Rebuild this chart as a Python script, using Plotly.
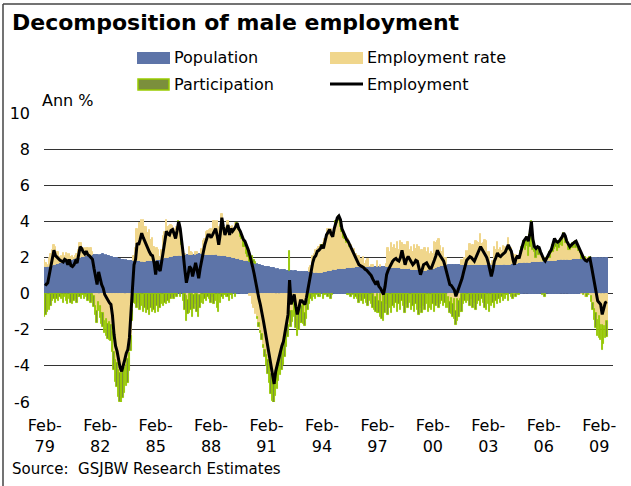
import plotly.graph_objects as go
import pandas as pd

# ---------------- data (annual % change, monthly Feb-79 .. Jul-09) ----------------
months = pd.date_range("1979-02-01", "2009-07-01", freq="MS")

population = [
    1.45, 1.45, 1.5, 1.5, 1.55, 1.55, 1.6, 1.6, 1.65, 1.65, 1.7,                 # 1979
    1.7, 1.72, 1.75, 1.78, 1.8, 1.82, 1.85, 1.88, 1.9, 1.93, 1.95, 1.98,          # 1980
    2.0, 2.02, 2.03, 2.05, 2.06, 2.08, 2.1, 2.1, 2.12, 2.13, 2.14, 2.15,          # 1981
    2.15, 2.16, 2.16, 2.17, 2.15, 2.13, 2.1, 2.08, 2.05, 2.02, 2.0, 1.98,         # 1982
    1.95, 1.93, 1.9, 1.88, 1.86, 1.85, 1.84, 1.83, 1.82, 1.81, 1.8, 1.8,          # 1983
    1.8, 1.79, 1.78, 1.78, 1.77, 1.77, 1.77, 1.78, 1.78, 1.79, 1.79, 1.8,         # 1984
    1.8, 1.82, 1.84, 1.86, 1.88, 1.9, 1.92, 1.95, 1.97, 2.0, 2.02, 2.04,          # 1985
    2.05, 2.06, 2.07, 2.08, 2.09, 2.1, 2.11, 2.12, 2.13, 2.14, 2.15, 2.15,        # 1986
    2.15, 2.15, 2.16, 2.16, 2.17, 2.17, 2.17, 2.17, 2.16, 2.16, 2.16, 2.15,       # 1987
    2.15, 2.15, 2.14, 2.14, 2.13, 2.12, 2.11, 2.1, 2.09, 2.08, 2.07, 2.06,        # 1988
    2.05, 2.03, 2.01, 1.99, 1.97, 1.95, 1.93, 1.91, 1.88, 1.86, 1.84, 1.82,       # 1989
    1.8, 1.78, 1.75, 1.73, 1.7, 1.68, 1.65, 1.62, 1.6, 1.57, 1.55, 1.52,          # 1990
    1.5, 1.48, 1.47, 1.45, 1.43, 1.42, 1.4, 1.38, 1.36, 1.34, 1.32, 1.31,         # 1991
    1.3, 1.29, 1.28, 1.27, 1.26, 1.25, 1.25, 1.24, 1.23, 1.22, 1.21, 1.2,         # 1992
    1.2, 1.2, 1.19, 1.19, 1.18, 1.18, 1.17, 1.17, 1.16, 1.16, 1.15, 1.15,         # 1993
    1.15, 1.16, 1.17, 1.19, 1.21, 1.23, 1.25, 1.27, 1.29, 1.31, 1.33, 1.34,       # 1994
    1.35, 1.36, 1.37, 1.38, 1.39, 1.4, 1.41, 1.42, 1.43, 1.44, 1.44, 1.45,        # 1995
    1.45, 1.46, 1.46, 1.47, 1.47, 1.48, 1.48, 1.49, 1.49, 1.5, 1.5, 1.5,          # 1996
    1.5, 1.5, 1.5, 1.49, 1.48, 1.47, 1.46, 1.45, 1.45, 1.44, 1.44, 1.43,          # 1997
    1.42, 1.42, 1.41, 1.41, 1.4, 1.39, 1.38, 1.37, 1.36, 1.35, 1.34, 1.33,        # 1998
    1.32, 1.31, 1.3, 1.3, 1.29, 1.29, 1.28, 1.28, 1.28, 1.28, 1.29, 1.3,          # 1999
    1.32, 1.35, 1.38, 1.42, 1.46, 1.5, 1.52, 1.54, 1.55, 1.56, 1.57, 1.58,        # 2000
    1.58, 1.59, 1.59, 1.6, 1.6, 1.6, 1.6, 1.6, 1.6, 1.6, 1.6, 1.6,                # 2001
    1.6, 1.6, 1.6, 1.6, 1.6, 1.6, 1.6, 1.6, 1.6, 1.6, 1.6, 1.6,                   # 2002
    1.6, 1.6, 1.6, 1.6, 1.6, 1.6, 1.6, 1.6, 1.6, 1.6, 1.6, 1.6,                   # 2003
    1.6, 1.6, 1.6, 1.61, 1.62, 1.63, 1.64, 1.65, 1.66, 1.67, 1.68, 1.69,          # 2004
    1.7, 1.7, 1.71, 1.72, 1.72, 1.73, 1.74, 1.74, 1.75, 1.76, 1.76, 1.77,         # 2005
    1.77, 1.78, 1.78, 1.79, 1.8, 1.8, 1.81, 1.82, 1.82, 1.83, 1.84, 1.84,         # 2006
    1.85, 1.85, 1.86, 1.86, 1.87, 1.87, 1.88, 1.88, 1.89, 1.89, 1.9, 1.9,         # 2007
    1.9, 1.91, 1.91, 1.92, 1.92, 1.93, 1.93, 1.94, 1.94, 1.95, 1.95, 1.95,        # 2008
    1.95, 1.96, 1.96, 1.96, 1.97, 1.97, 1.97,                                     # 2009
]

employment_rate = [
    0.4, 0.25, 0.1, 0.5, 0.65, 0.85, 1.1, 1.0, 0.65, 0.65, 0.35,                  # 1979
    0.4, 0.53, 0.35, 0.47, 0.4, 0.38, 0.2, 0.22, 0.1, 0.17, 0.25, 0.42,           # 1980
    0.8, 0.78, 0.37, 0.45, 0.49, 0.47, 0.3, 0.4, 0.18, -0.13, -0.69, -0.95,       # 1981
    -0.45, -0.66, -1.06, -1.07, -1.5, -1.43, -1.7, -1.58, -1.75, -2.12, -3.25, -3.68,  # 1982
    -3.85, -4.23, -4.4, -4.38, -4.26, -4.1, -3.94, -3.63, -3.27, -2.36, -0.9, 0.3,     # 1983
    0.7, 1.81, 1.42, 2.12, 2.28, 2.33, 1.93, 1.92, 1.57, 1.71, 1.16, 1.3,         # 1984
    0.8, 0.33, 0.66, 0.54, 0.17, 0.5, 1.28, 1.45, 2.08, 1.7, 1.73, 1.76,          # 1985
    1.7, 1.54, 1.08, 1.62, 1.81, 1.7, 0.59, 0.43, 0.07, -0.14, -0.35, 0.45,       # 1986
    0.15, 0.1, -0.06, 0.14, 0.13, -0.12, -0.07, 0.28, 0.74, 0.84, 1.24, 1.3,      # 1987
    1.4, 1.45, 1.31, 1.86, 1.87, 1.88, 1.59, 1.7, 2.31, 1.92, 1.28, 1.64,         # 1988
    1.95, 1.62, 1.69, 1.76, 1.48, 1.95, 1.77, 1.59, 1.27, 1.14, 0.76, 0.78,       # 1989
    0.4, 0.27, -0.15, -0.13, -0.6, -0.78, -1.15, -1.32, -1.65, -2.07, -2.25, -2.82,    # 1990
    -3.1, -3.38, -3.67, -3.95, -4.43, -4.62, -4.9, -4.48, -3.86, -3.84, -3.32, -3.31,  # 1991
    -2.95, -2.69, -1.88, -1.72, -1.61, -0.95, -0.95, -0.49, -0.73, -1.47, -1.01, -0.9, # 1992
    -0.7, -0.6, -1.09, -0.59, -0.38, 0.22, 0.38, 0.93, 1.04, 1.24, 1.3, 1.45,     # 1993
    1.55, 1.44, 1.63, 1.81, 1.84, 2.37, 2.2, 2.33, 1.96, 2.09, 2.57, 2.56,        # 1994
    2.65, 2.34, 2.03, 1.72, 1.66, 1.4, 1.59, 1.18, 1.27, 1.01, 1.01, 0.75,        # 1995
    0.65, 0.64, 0.29, 0.43, 0.58, 0.17, 0.32, 0.41, 0.01, 0.1, 0.1, -0.4,         # 1996
    -0.2, 0.3, -0.4, 0.11, -0.48, -0.12, -0.06, 0.2, 1.05, 0.86, 1.36, 1.07,      # 1997
    1.28, 1.03, 1.44, 0.99, 1.5, 1.41, 1.32, 1.33, 1.14, 1.5, 1.06, 1.27,         # 1998
    0.98, 1.39, 1.15, 1.4, 1.31, 0.56, 1.12, 1.02, 1.27, 1.02, 1.26, 0.9,         # 1999
    0.98, 0.85, 1.47, 1.38, 1.44, 1.5, 1.13, 0.76, 0.95, 0.44, 0.38, -0.18,       # 2000
    -0.48, -0.24, -0.59, -0.3, -0.95, -0.3, -0.4, -0.3, 0.25, 0.2, 0.4, 0.75,     # 2001
    0.75, 1.15, 0.7, 1.1, 0.7, 1.3, 1.25, 1.2, 1.7, 1.15, 1.2, 1.35,              # 2002
    1.3, 0.7, 0.7, 0.05, 0.2, 1.0, 0.8, 1.25, 0.8, 0.95, 0.75, 1.05,              # 2003
    1.0, 1.0, 1.5, 0.79, 0.93, 0.57, -0.14, 0.5, 0.24, 0.38, 0.57, 0.71,          # 2004
    0.8, 0.7, 0.94, 0.38, 0.88, 1.27, 0.66, 0.56, 0.25, 0.64, 0.39, 0.43,         # 2005
    0.38, 0.02, 0.22, 0.01, 0.25, 0.2, 0.44, 0.48, 0.63, 0.77, 0.51, 0.66,        # 2006
    0.85, 0.8, 1.29, 0.94, 0.93, 0.53, 0.52, 0.72, 0.61, 0.76, 0.6, 0.7,          # 2007
    0.45, 0.34, -0.01, 0.13, -0.17, 0.07, 0.07, -0.09, -0.14, -0.5, -0.85, -1.1,  # 2008
    -1.45, -1.26, -1.76, -1.71, -1.77, -1.77, -1.52,                              # 2009
]

participation = [
    -1.3, -1.2, -1.0, -0.9, -0.7, -0.4, -0.3, -0.5, -0.3, -0.4, -0.2,             # 1979
    -0.3, -0.5, -0.2, -0.4, -0.6, -0.3, -0.5, -0.6, -0.4, -0.3, -0.5, -0.2,       # 1980
    -0.2, -0.3, -0.1, -0.3, -0.2, -0.4, -0.3, -0.5, -0.4, -0.6, -0.5, -0.7,       # 1981
    -0.5, -0.7, -0.6, -0.8, -0.7, -0.9, -0.8, -1.0, -0.9, -1.1, -1.0, -1.2,       # 1982
    -1.3, -1.5, -1.6, -1.8, -1.5, -1.4, -1.2, -1.3, -1.0, -0.8, -0.6, -0.5,       # 1983
    -0.6, -0.8, -0.5, -0.9, -0.7, -1.0, -0.8, -1.1, -0.9, -1.2, -0.8, -1.0,       # 1984
    -0.9, -1.1, -0.7, -1.0, -0.8, -0.6, -0.7, -0.5, -0.6, -0.4, -0.5, -0.3,       # 1985
    -0.2, -0.3, -0.1, -0.2, 0.1, -0.2, 0.3, -0.4, -0.9, -1.4, -0.8, -1.1,         # 1986
    -0.9, -1.3, -0.8, -0.6, -1.0, -1.2, -0.7, -0.5, -0.6, -0.3, -0.4, -0.2,       # 1987
    -0.3, -0.5, -0.2, -0.6, -0.4, -0.8, -1.0, -0.5, -0.2, -0.3, -0.1, -0.2,       # 1988
    -0.2, -0.4, -0.1, -0.3, 0.1, -0.2, 0.2, 0.1, 0.3, 0.2, 0.4, 0.3,              # 1989
    0.5, 0.4, 0.6, 0.3, 0.4, 0.2, 0.1, -0.1, -0.2, -0.1, -0.3, -0.2,              # 1990
    -0.4, -0.6, -0.8, -1.0, -1.1, -1.3, -1.5, -1.2, -1.4, -1.0, -1.2, -0.9,       # 1991
    -1.0, -0.8, -1.1, -0.7, 1.1, -0.9, -0.6, -0.8, -1.2, -0.9, -1.0, -0.7,        # 1992
    -0.9, -1.1, -0.7, -0.8, -0.5, -0.6, -0.3, -0.4, -0.2, -0.3, -0.1, -0.2,       # 1993
    -0.2, 0.1, -0.3, -0.1, 0.2, -0.2, 0.1, -0.3, -0.1, 0.2, 0.1, 0.3,             # 1994
    0.3, 0.4, 0.2, 0.3, 0.1, 0.2, -0.1, 0.1, -0.2, -0.1, -0.3, -0.2,              # 1995
    -0.3, -0.5, -0.2, -0.4, -0.6, -0.3, -0.5, -0.7, -0.4, -0.6, -0.8, -0.5,       # 1996
    -0.8, -1.1, -0.7, -1.3, -0.9, -1.4, -1.0, -0.6, -1.2, -0.8, -1.1, -0.7,       # 1997
    -0.8, -0.5, -1.0, -0.6, -0.9, -0.4, -0.7, -1.1, -0.6, -0.8, -0.5, -0.9,       # 1998
    -0.7, -1.0, -0.6, -0.9, -1.2, -0.8, -1.1, -0.7, -0.9, -0.6, -1.0, -0.8,       # 1999
    -0.9, -0.6, -1.0, -0.7, -0.5, -0.8, -0.6, -0.4, -0.7, -0.5, -0.8, -0.6,       # 2000
    -0.6, -0.9, -0.7, -1.1, -0.8, -1.2, -0.9, -0.7, -1.0, -0.6, -0.4, -0.5,       # 2001
    -0.4, -0.7, -0.3, -0.8, -0.5, -0.9, -0.6, -0.4, -0.7, -0.3, -0.5, -0.8,       # 2002
    -0.9, -0.6, -1.0, -0.7, -0.5, -0.8, -0.4, -0.6, -0.3, -0.5, -0.2, -0.4,       # 2003
    -0.3, -0.1, -0.4, 0.1, -0.2, -0.3, 0.1, -0.2, 0.2, -0.1, 0.1, 0.2,            # 2004
    0.4, 0.6, 0.5, 0.8, 0.7, 1.0, 0.6, 0.3, 0.5, 0.2, 0.4, 0.1,                   # 2005
    -0.1, 0.1, -0.2, 0.2, 0.1, 0.3, 0.2, 0.4, 0.6, 0.3, 0.5, 0.4,                 # 2006
    0.3, 0.5, 0.2, 0.4, 0.1, 0.3, 0.2, 0.1, 0.3, 0.2, 0.4, 0.1,                   # 2007
    0.2, 0.1, 0.3, -0.1, 0.1, -0.2, -0.1, 0.1, -0.3, -0.4, -0.6, -0.8,            # 2008
    -0.9, -1.2, -0.8, -1.4, -1.0, -0.7, -0.9,                                     # 2009
]

employment = [
    0.55, 0.5, 0.6, 1.1, 1.5, 2.0, 2.4, 2.1, 2.0, 1.9, 1.85,                      # 1979
    1.8, 1.75, 1.9, 1.85, 1.6, 1.9, 1.55, 1.5, 1.6, 1.8, 1.7, 2.2,                # 1980
    2.6, 2.5, 2.3, 2.2, 2.35, 2.15, 2.1, 2.0, 1.9, 1.4, 0.95, 0.5,                # 1981
    1.2, 0.8, 0.5, 0.3, -0.05, -0.2, -0.4, -0.5, -0.6, -1.2, -2.25, -2.9,         # 1982
    -3.2, -3.8, -4.1, -4.3, -3.9, -3.65, -3.3, -3.1, -2.45, -1.35, 0.3, 1.6,      # 1983
    1.9, 2.8, 2.7, 3.0, 3.35, 3.1, 2.9, 2.6, 2.45, 2.3, 2.15, 2.1,                # 1984
    1.7, 1.05, 1.8, 1.4, 1.25, 1.8, 2.5, 2.9, 3.45, 3.3, 3.25, 3.5,               # 1985
    3.55, 3.3, 3.05, 3.5, 4.0, 3.6, 3.0, 2.15, 1.3, 0.6, 1.0, 1.5,                # 1986
    1.4, 0.95, 1.3, 1.7, 1.3, 0.85, 1.4, 1.95, 2.3, 2.7, 3.0, 3.25,               # 1987
    3.25, 3.1, 3.25, 3.4, 3.6, 3.2, 2.7, 3.3, 4.2, 3.7, 3.25, 3.5,                # 1988
    3.8, 3.25, 3.6, 3.45, 3.55, 3.7, 3.9, 3.6, 3.45, 3.2, 3.0, 2.9,               # 1989
    2.7, 2.45, 2.2, 1.9, 1.5, 1.1, 0.6, 0.2, -0.25, -0.6, -1.0, -1.5,             # 1990
    -2.0, -2.5, -3.0, -3.5, -4.1, -4.5, -5.0, -4.3, -3.9, -3.5, -3.2, -2.9,       # 1991
    -2.65, -2.2, -1.7, -1.15, 0.75, -0.6, -0.3, -0.05, -0.7, -1.15, -0.8, -0.4,   # 1992
    -0.4, -0.5, -0.6, -0.2, 0.3, 0.8, 1.25, 1.7, 2.0, 2.1, 2.35, 2.4,             # 1993
    2.5, 2.7, 2.5, 2.9, 3.25, 3.4, 3.55, 3.3, 3.15, 3.6, 4.0, 4.2,                # 1994
    4.3, 4.1, 3.6, 3.4, 3.15, 3.0, 2.9, 2.7, 2.5, 2.35, 2.15, 2.0,                # 1995
    1.8, 1.6, 1.55, 1.5, 1.45, 1.35, 1.3, 1.2, 1.1, 1.0, 0.8, 0.6,                # 1996
    0.5, 0.7, 0.4, 0.3, 0.1, -0.05, 0.4, 1.05, 1.3, 1.5, 1.7, 1.8,                # 1997
    1.9, 1.95, 1.85, 1.8, 2.0, 2.4, 2.0, 1.6, 1.9, 2.05, 1.9, 1.7,                # 1998
    1.6, 1.7, 1.85, 1.8, 1.4, 1.05, 1.3, 1.6, 1.65, 1.7, 1.55, 1.4,               # 1999
    1.4, 1.6, 1.85, 2.1, 2.4, 2.2, 2.05, 1.9, 1.8, 1.5, 1.15, 0.8,                # 2000
    0.5, 0.45, 0.3, 0.2, -0.15, 0.1, 0.3, 0.6, 0.85, 1.2, 1.6, 1.85,              # 2001
    1.95, 2.05, 2.0, 1.9, 1.8, 2.0, 2.25, 2.4, 2.6, 2.45, 2.3, 2.15,              # 2002
    2.0, 1.7, 1.3, 0.95, 1.3, 1.8, 2.0, 2.25, 2.1, 2.05, 2.15, 2.25,              # 2003
    2.3, 2.5, 2.7, 2.5, 2.35, 1.9, 1.6, 1.95, 2.1, 1.95, 2.35, 2.6,               # 2004
    2.9, 3.0, 3.15, 2.9, 3.3, 4.0, 3.0, 2.6, 2.5, 2.6, 2.55, 2.3,                 # 2005
    2.05, 1.9, 1.8, 2.0, 2.15, 2.3, 2.45, 2.7, 3.05, 2.9, 2.85, 2.9,              # 2006
    3.0, 3.15, 3.35, 3.2, 2.9, 2.7, 2.6, 2.7, 2.8, 2.85, 2.9, 2.7,                # 2007
    2.55, 2.35, 2.2, 1.95, 1.85, 1.8, 1.9, 1.95, 1.5, 1.05, 0.5, 0.05,            # 2008
    -0.4, -0.5, -0.6, -1.15, -0.8, -0.5, -0.45,                                   # 2009
]

x_tick_dates = ["1979-02-01", "1982-02-01", "1985-02-01", "1988-02-01", "1991-02-01",
                "1994-02-01", "1997-02-01", "2000-02-01", "2003-02-01", "2006-02-01",
                "2009-02-01"]
x_tick_text = ["Feb-<br>79", "Feb-<br>82", "Feb-<br>85", "Feb-<br>88", "Feb-<br>91",
               "Feb-<br>94", "Feb-<br>97", "Feb-<br>00", "Feb-<br>03", "Feb-<br>06",
               "Feb-<br>09"]
y_tick_vals = [-6, -4, -2, 0, 2, 4, 6, 8, 10]
y_tick_text = ["-6", "-4", "-2", "0", "2", "4", "6", "8", "10"]

# ---------------- layout geometry (pixels) ----------------
W, H = 631, 486
ML, MR, MT, MB = 44, 18, 113, 84
PW, PH = W - ML - MR, H - MT - MB


def px(x):
    return (x - ML) / PW


def py(y):
    return (H - MB - y) / PH


FONT = "DejaVu Sans"
BLUE = "#5d74a8"
TAN = "#f0d68c"
GREEN_FILL = "#7b8f3c"
GREEN_EDGE = "#99cc00"

fig = go.Figure()
fig.add_trace(go.Bar(x=months, y=population, name="Population",
                     marker=dict(color=BLUE, line=dict(color=BLUE, width=1))))
fig.add_trace(go.Bar(x=months, y=employment_rate, name="Employment rate",
                     marker=dict(color=TAN, line=dict(color=TAN, width=1))))
fig.add_trace(go.Bar(x=months, y=participation, name="Participation",
                     marker=dict(color=GREEN_FILL, line=dict(color=GREEN_EDGE, width=0.9))))
fig.add_trace(go.Scatter(x=months, y=employment, name="Employment", mode="lines",
                         line=dict(color="black", width=3)))

shapes = [
    # outer frame (top and left)
    dict(type="line", xref="paper", yref="paper", x0=px(3), x1=px(631), y0=py(4), y1=py(4),
         line=dict(color="#444", width=1.5)),
    dict(type="line", xref="paper", yref="paper", x0=px(3), x1=px(3), y0=py(4), y1=py(486),
         line=dict(color="#444", width=1.5)),
    # legend swatches
    dict(type="rect", xref="paper", yref="paper", x0=px(137), x1=px(170), y0=py(64), y1=py(52),
         fillcolor=BLUE, line=dict(width=0)),
    dict(type="rect", xref="paper", yref="paper", x0=px(330), x1=px(363), y0=py(64), y1=py(52),
         fillcolor=TAN, line=dict(width=0)),
    dict(type="rect", xref="paper", yref="paper", x0=px(138), x1=px(169), y0=py(90), y1=py(79),
         fillcolor=GREEN_FILL, line=dict(color=GREEN_EDGE, width=1.5)),
    dict(type="line", xref="paper", yref="paper", x0=px(330), x1=px(363), y0=py(84), y1=py(84),
         line=dict(color="black", width=3)),
]

annotations = [
    dict(text="<b>Decomposition of male employment</b>", x=px(10), y=py(23),
         font=dict(size=22, family=FONT, color="black")),
    dict(text="Population", x=px(172), y=py(58), font=dict(size=16, family=FONT, color="black")),
    dict(text="Employment rate", x=px(365), y=py(58), font=dict(size=16, family=FONT, color="black")),
    dict(text="Participation", x=px(172), y=py(84), font=dict(size=16, family=FONT, color="black")),
    dict(text="Employment", x=px(365), y=py(84), font=dict(size=16, family=FONT, color="black")),
    dict(text="Ann %", x=px(40), y=py(100), font=dict(size=16, family=FONT, color="black")),
    dict(text="Source:\u00a0 GSJBW Research Estimates", x=px(10), y=py(469),
         font=dict(size=15, family=FONT, color="black")),
]
for a in annotations:
    a.update(xref="paper", yref="paper", xanchor="left", yanchor="middle", showarrow=False)

fig.update_layout(
    width=W, height=H,
    margin=dict(l=ML, r=MR, t=MT, b=MB, autoexpand=False),
    paper_bgcolor="white", plot_bgcolor="white",
    barmode="relative", bargap=0,
    showlegend=False,
    font=dict(family=FONT, size=16, color="black"),
    shapes=shapes, annotations=annotations,
    xaxis=dict(type="date", range=["1979-01-17", "2009-10-31"],
               tickmode="array", tickvals=x_tick_dates, ticktext=x_tick_text,
               showgrid=False, zeroline=False, showline=False, ticks="",
               tickfont=dict(size=16, family=FONT, color="black"),
               ticklabelstandoff=12, automargin=False),
    yaxis=dict(range=[-6, 10], tickmode="array", tickvals=y_tick_vals, ticktext=y_tick_text,
               showgrid=True, gridcolor="#333333", gridwidth=1,
               zeroline=True, zerolinecolor="#333333", zerolinewidth=1,
               showline=False, ticks="",
               tickfont=dict(size=16, family=FONT, color="black"),
               ticklabelstandoff=13, automargin=False),
)

fig.write_html("out.html", config={"displayModeBar": False},
               post_script="document.body.style.margin='0px';")
